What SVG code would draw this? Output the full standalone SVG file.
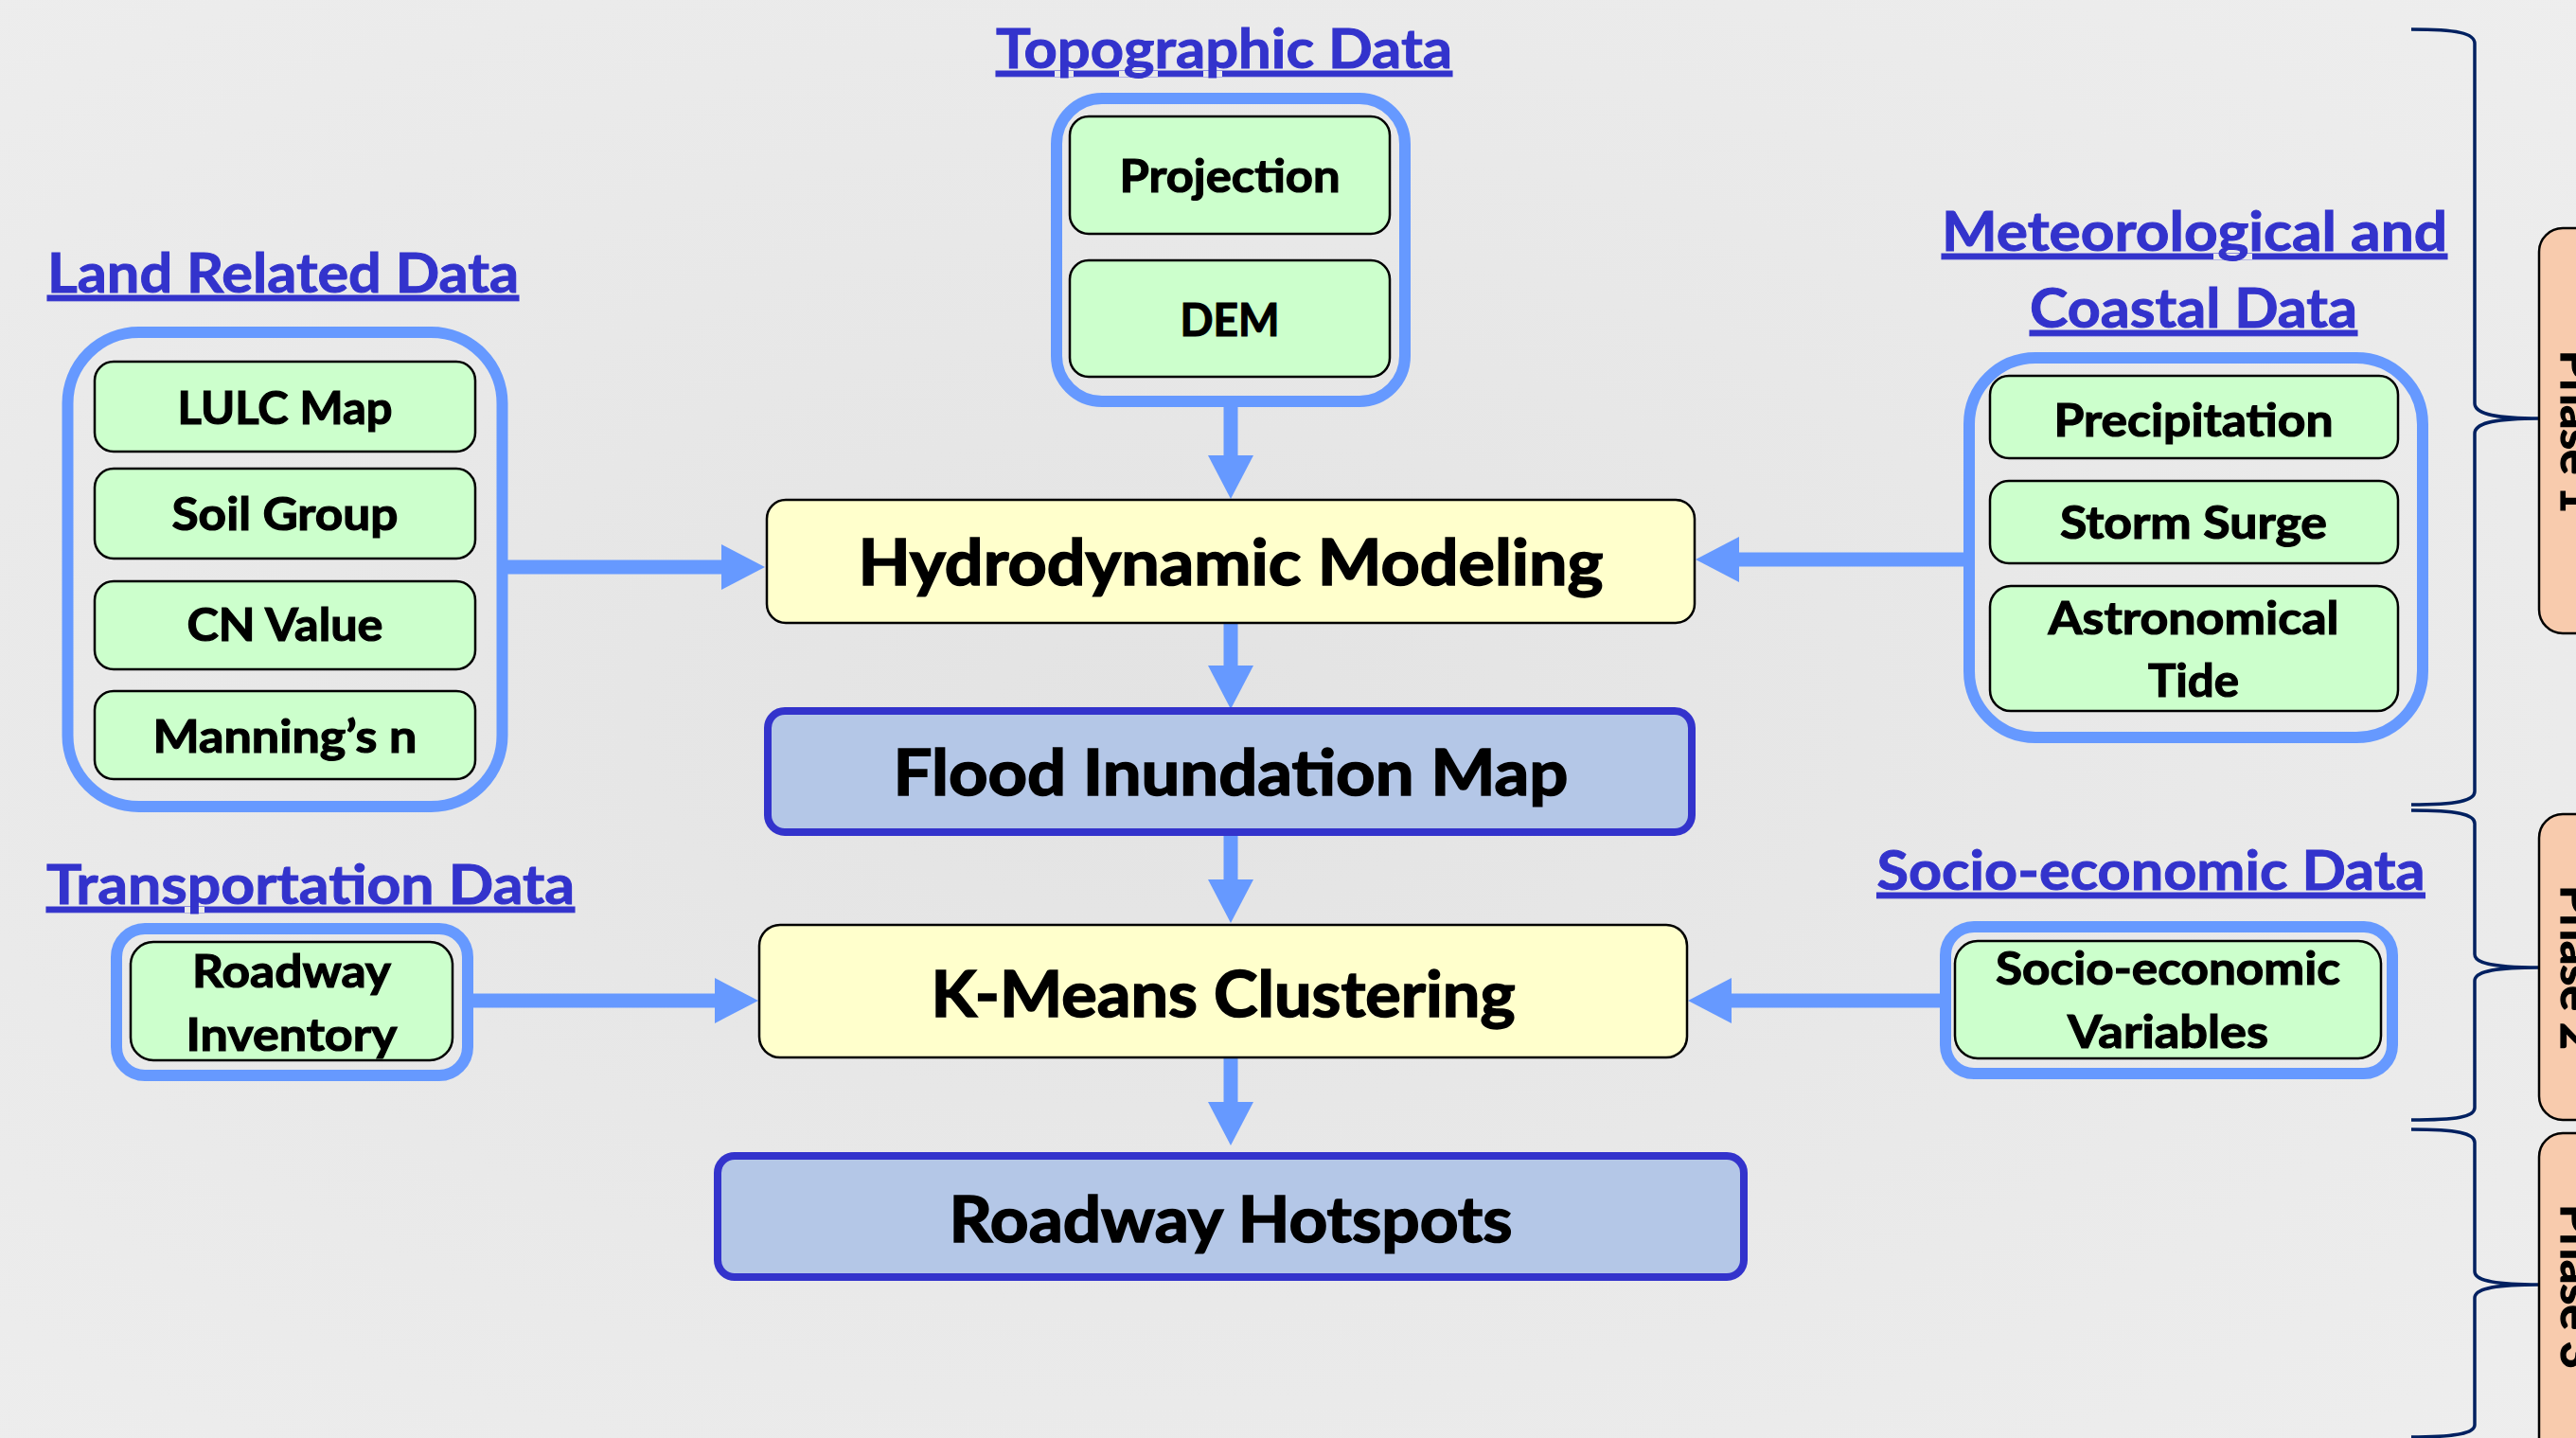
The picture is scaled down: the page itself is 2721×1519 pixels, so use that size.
<svg xmlns="http://www.w3.org/2000/svg" width="2721" height="1519" viewBox="0 0 2721 1519">
<defs>
<radialGradient id="bg" cx="0.45" cy="0.5" r="0.75">
<stop offset="0" stop-color="#E3E3E3"/>
<stop offset="1" stop-color="#EEEEEE"/>
</radialGradient>
<marker id="ah" markerUnits="userSpaceOnUse" markerWidth="46" markerHeight="48" viewBox="0 0 46 48" refX="0" refY="24" orient="auto">
<path d="M0,0 L46,24 L0,48 Z" fill="#6699FF"/>
</marker>
<style>
text{font-family:Lato,"Liberation Sans",sans-serif;font-weight:bold;text-anchor:middle;}
.title{font-size:58px;fill:#3333CC;stroke:#3333CC;stroke-width:1;text-decoration:underline;}
.lbl{font-size:48px;fill:#000;stroke:#000;stroke-width:1.2;}
.main{font-size:67px;fill:#000;stroke:#000;stroke-width:1.6;}
.phase{font-size:48px;fill:#000;stroke:#000;stroke-width:1.2;}
.group{fill:none;stroke:#6699FF;stroke-width:12;}
.item{fill:#CCFFCC;stroke:#000;stroke-width:2.5;}
.proc{fill:#FFFFCC;stroke:#000;stroke-width:2.5;}
.out{fill:#B4C7E7;stroke:#3333CC;stroke-width:8;}
.arrow{stroke:#6699FF;stroke-width:15;fill:none;marker-end:url(#ah);}
.brace{fill:none;stroke:#002060;stroke-width:3.5;}
.phbox{fill:#F8CBAD;stroke:#000;stroke-width:2.5;}
</style>
</defs>
<rect x="0" y="0" width="2721" height="1519" fill="url(#bg)"/>

<g id="connectors">
<line class="arrow" x1="1300" y1="430" x2="1300" y2="481"/>
<line class="arrow" x1="1300" y1="658" x2="1300" y2="703"/>
<line class="arrow" x1="1300" y1="883" x2="1300" y2="929"/>
<line class="arrow" x1="1300" y1="1117" x2="1300" y2="1164"/>
<line class="arrow" x1="536" y1="599" x2="762" y2="599"/>
<line class="arrow" x1="2074" y1="591" x2="1837" y2="591"/>
<line class="arrow" x1="500" y1="1057" x2="755" y2="1057"/>
<line class="arrow" x1="2049" y1="1057" x2="1829" y2="1057"/>
</g>

<g id="topographic">
<text class="title" x="1293" y="72" textLength="482" lengthAdjust="spacingAndGlyphs">Topographic Data</text>
<rect class="group" x="1116" y="104" width="368" height="320" rx="48"/>
<g id="projection">
<rect class="item" x="1130" y="123" width="338" height="124" rx="20"/>
<text class="lbl" x="1299" y="203" textLength="233" lengthAdjust="spacingAndGlyphs">Projection</text>
</g>
<g id="dem">
<rect class="item" x="1130" y="275" width="338" height="123" rx="20"/>
<text class="lbl" x="1299" y="355" textLength="105" lengthAdjust="spacingAndGlyphs">DEM</text>
</g>
</g>

<g id="land">
<text class="title" x="299" y="309" textLength="498" lengthAdjust="spacingAndGlyphs">Land Related Data</text>
<rect class="group" x="71.5" y="351" width="459" height="501" rx="75"/>
<g id="lulc">
<rect class="item" x="100" y="382" width="402" height="95" rx="20"/>
<text class="lbl" x="301" y="448" textLength="227" lengthAdjust="spacingAndGlyphs">LULC Map</text>
</g>
<g id="soil">
<rect class="item" x="100" y="495" width="402" height="95" rx="20"/>
<text class="lbl" x="301" y="560" textLength="239" lengthAdjust="spacingAndGlyphs">Soil Group</text>
</g>
<g id="cn">
<rect class="item" x="100" y="614" width="402" height="93" rx="20"/>
<text class="lbl" x="301" y="677" textLength="207" lengthAdjust="spacingAndGlyphs">CN Value</text>
</g>
<g id="manning">
<rect class="item" x="100" y="730" width="402" height="93" rx="20"/>
<text class="lbl" x="301" y="795" textLength="279" lengthAdjust="spacingAndGlyphs">Manning’s n</text>
</g>
</g>

<g id="meteo">
<text class="title" x="2318" y="265" textLength="534" lengthAdjust="spacingAndGlyphs">Meteorological and</text>
<text class="title" x="2317" y="346" textLength="346" lengthAdjust="spacingAndGlyphs">Coastal Data</text>
<rect class="group" x="2080" y="378" width="479" height="401" rx="70"/>
<g id="precip">
<rect class="item" x="2102" y="397" width="431" height="87" rx="20"/>
<text class="lbl" x="2317" y="461" textLength="295" lengthAdjust="spacingAndGlyphs">Precipitation</text>
</g>
<g id="surge">
<rect class="item" x="2102" y="508" width="431" height="87" rx="20"/>
<text class="lbl" x="2317" y="569" textLength="282" lengthAdjust="spacingAndGlyphs">Storm Surge</text>
</g>
<g id="tide">
<rect class="item" x="2102" y="619" width="431" height="132" rx="22"/>
<text class="lbl" x="2317" y="670" textLength="307" lengthAdjust="spacingAndGlyphs">Astronomical</text>
<text class="lbl" x="2317" y="736" textLength="96" lengthAdjust="spacingAndGlyphs">Tide</text>
</g>
</g>

<g id="transport">
<text class="title" x="328" y="955" textLength="558" lengthAdjust="spacingAndGlyphs">Transportation Data</text>
<rect class="group" x="123" y="981" width="371" height="155" rx="30"/>
<g id="inventory">
<rect class="item" x="138" y="995" width="340" height="125" rx="24"/>
<text class="lbl" x="308" y="1043" textLength="210" lengthAdjust="spacingAndGlyphs">Roadway</text>
<text class="lbl" x="308" y="1110" textLength="223" lengthAdjust="spacingAndGlyphs">Inventory</text>
</g>
</g>

<g id="socio">
<text class="title" x="2272" y="940" textLength="579" lengthAdjust="spacingAndGlyphs">Socio-economic Data</text>
<rect class="group" x="2055" y="979" width="472" height="155" rx="30"/>
<g id="variables">
<rect class="item" x="2065" y="994" width="450" height="124" rx="24"/>
<text class="lbl" x="2290" y="1040" textLength="364" lengthAdjust="spacingAndGlyphs">Socio-economic</text>
<text class="lbl" x="2290" y="1107" textLength="212" lengthAdjust="spacingAndGlyphs">Variables</text>
</g>
</g>

<g id="hydro">
<rect class="proc" x="810" y="528" width="980" height="130" rx="20"/>
<text class="main" x="1300" y="618" textLength="787" lengthAdjust="spacingAndGlyphs">Hydrodynamic Modeling</text>
</g>
<g id="flood">
<rect class="out" x="811" y="751" width="976" height="128" rx="18"/>
<text class="main" x="1300" y="840" textLength="713" lengthAdjust="spacingAndGlyphs">Flood Inundation Map</text>
</g>
<g id="kmeans">
<rect class="proc" x="802" y="977" width="980" height="140" rx="22"/>
<text class="main" x="1292" y="1074" textLength="617" lengthAdjust="spacingAndGlyphs">K-Means Clustering</text>
</g>
<g id="hotspots">
<rect class="out" x="758" y="1221" width="1084" height="128" rx="18"/>
<text class="main" x="1300" y="1312" textLength="595" lengthAdjust="spacingAndGlyphs">Roadway Hotspots</text>
</g>

<g id="phase1">
<path class="brace" d="M2547,31 C2595,31 2614,35 2614,46 L2614,426 C2614,436 2630,442 2682,442 M2682,442 C2630,442 2614,448 2614,458 L2614,836 C2614,846 2595,850 2547,850"/>
<rect class="phbox" x="2682" y="241" width="120" height="428" rx="25"/>
<text class="phase" transform="translate(2705,456) rotate(90)" x="0" y="0" textLength="172" lengthAdjust="spacingAndGlyphs">Phase 1</text>
</g>
<g id="phase2">
<path class="brace" d="M2547,856 C2595,856 2614,860 2614,870 L2614,1008 C2614,1017 2630,1022 2682,1022 M2682,1022 C2630,1022 2614,1027 2614,1036 L2614,1170 C2614,1180 2595,1183 2547,1183"/>
<rect class="phbox" x="2682" y="860" width="120" height="323" rx="25"/>
<text class="phase" transform="translate(2705,1022) rotate(90)" x="0" y="0" textLength="174" lengthAdjust="spacingAndGlyphs">Phase 2</text>
</g>
<g id="phase3">
<path class="brace" d="M2547,1193 C2595,1193 2614,1197 2614,1207 L2614,1343 C2614,1352 2630,1357 2682,1357 M2682,1357 C2630,1357 2614,1362 2614,1371 L2614,1505 C2614,1514 2595,1518 2547,1518"/>
<rect class="phbox" x="2682" y="1197" width="120" height="380" rx="25"/>
<text class="phase" transform="translate(2705,1359) rotate(90)" x="0" y="0" textLength="174" lengthAdjust="spacingAndGlyphs">Phase 3</text>
</g>
</svg>
